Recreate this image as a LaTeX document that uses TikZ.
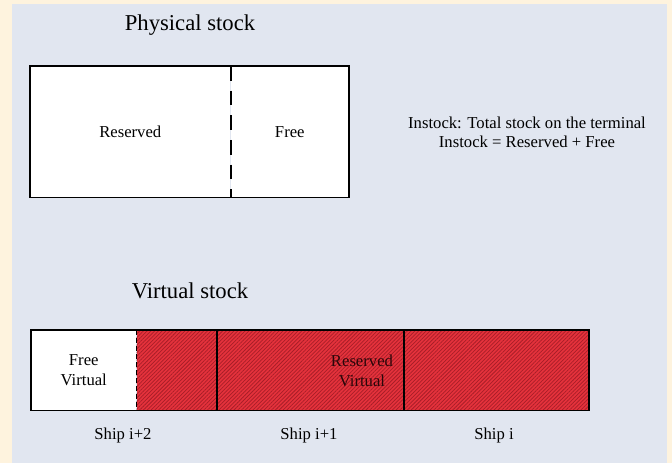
\documentclass[tikz,border=0pt]{standalone}
\usepackage{fontspec}
\setmainfont{Liberation Serif}
\usetikzlibrary{positioning, patterns.meta}
\definecolor{paper}{HTML}{FEF3DE}
\definecolor{panel}{HTML}{E1E6F0}
\definecolor{stockred}{HTML}{E5323C}
\definecolor{stripe}{HTML}{A81E28}
\tikzset{
	cell/.style={inner sep=0pt, align=center, font=\fontsize{12.5}{14.5}\selectfont},
	reservedcell/.style={cell, fill=stockred, pattern color=stripe},
	title/.style={font=\fontsize{17}{20}\selectfont},
	label/.style={font=\fontsize{12.5}{14.5}\selectfont, align=center},
	divider/.style={line width=1.5pt, dash pattern=on 11pt off 7.5pt},
	frame/.style={draw, line width=1.1pt}
}

\begin{document}
\begin{tikzpicture}[x=0.75pt, y={(0pt,-0.75pt)}]
		% background
		\fill[paper] (0,0) rectangle (672,463);
		\fill[panel] (12,4) rectangle (667,463);
		\useasboundingbox (0,0) rectangle (672,463);
		
		% physical stock
		\node[title] (phystitle) at (190,25) {Physical stock};
		\node[cell, fill=white, minimum width=150pt, minimum height=98.25pt, anchor=north west] (reserved) at (30,66) {Reserved};
		\node[cell, fill=white, minimum width=88.5pt, minimum height=98.25pt, anchor=north west] (free) at (reserved.north east) {Free};
		\draw[frame] (reserved.north west) rectangle (free.south east);
		\draw[divider] (reserved.north east) -- (reserved.south east);
		
		\node[label] (instock) at (527,132) {Instock: Total stock on the terminal\\Instock = Reserved + Free};
		
		% virtual stock
		\node[title] (virttitle) at (190,291) {Virtual stock};
		\node[cell, fill=white, minimum width=78.75pt, minimum height=60pt, anchor=north west] (freevirt) at (31,330) {Free\\Virtual};
		\node[cell, minimum width=60pt, minimum height=60pt, anchor=north west] (shipc) at (freevirt.north east) {};
		\node[cell, minimum width=139.5pt, minimum height=60pt, anchor=north west] (shipb) at (shipc.north east) {};
		\node[cell, minimum width=138.75pt, minimum height=60pt, anchor=north west] (shipa) at (shipb.north east) {};
		\fill[stockred] (shipc.north west) rectangle (shipa.south east);
		\fill[pattern={Lines[angle=45, distance=2pt, line width=0.55pt]}, pattern color=stripe] (shipc.north west) rectangle (shipa.south east);
		\node[label, text=black!75!stripe] (resvirt) at (362,371) {Reserved\\Virtual};
		
		\draw[frame] (freevirt.north west) rectangle (shipa.south east);
		\draw[line width=0.9pt, dash pattern=on 4pt off 2pt] (freevirt.north east) -- (freevirt.south east);
		\draw[line width=1.5pt] (shipb.north west) -- (shipb.south west);
		\draw[line width=1.5pt] (shipa.north west) -- (shipa.south west);
		
		\node[label] (shiplc) at (123,435) {Ship i+2};
		\node[label] (shiplb) at (309,435) {Ship i+1};
		\node[label] (shipla) at (494,435) {Ship i};
	\end{tikzpicture}
\end{document}
